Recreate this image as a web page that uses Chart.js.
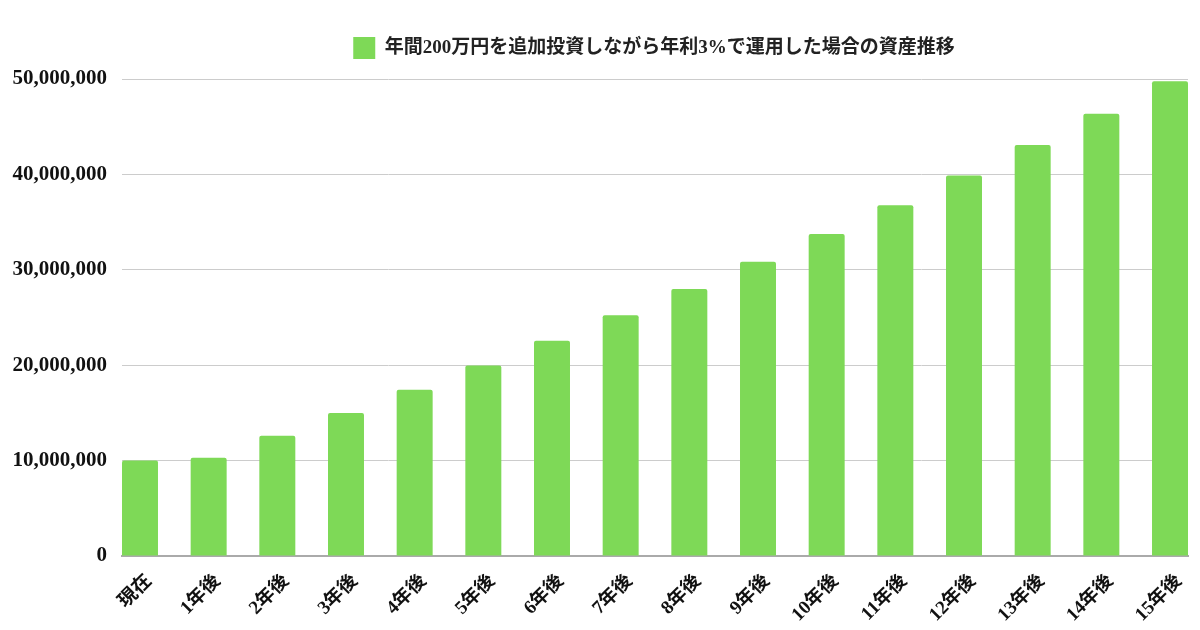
<!DOCTYPE html>
<html>
<head>
<meta charset="utf-8">
<script src="https://cdn.jsdelivr.net/npm/chart.js@4/dist/chart.umd.min.js"></script>
<style>
  html, body { margin: 0; padding: 0; background: #fff; }
  #wrap { width: 1200px; height: 630px; }
</style>
</head>
<body>
<div id="wrap"><canvas id="myChart" width="1200" height="630"></canvas></div>
<script>
const seriesName = "年間200万円を追加投資しながら年利3%で運用した場合の資産推移";
const xLabels = ["現在", "1年後", "2年後", "3年後", "4年後", "5年後", "6年後", "7年後",
    "8年後", "9年後", "10年後", "11年後", "12年後", "13年後", "14年後", "15年後"];
const assetValues = [10000000, 10300000, 12609000, 14987000, 17437000, 19960000, 22559000, 25236000,
    27993000, 30833000, 33758000, 36771000, 39874000, 43070000, 46362000, 49753000];
const yTicks = [0, 10000000, 20000000, 30000000, 40000000, 50000000];

const barColor = "#7ed957";
const fontFamily = '"Liberation Serif", "Noto Sans CJK JP", serif';
// fraction of one category step that a bar fills
const barFrac = 0.524;

const points = assetValues.map(function (v, i) {
    return { x: i, y: v };
});

// extra space under the legend, and centre it over the plot rather than the canvas
const legendTweak = {
    id: "legendTweak",
    beforeInit: function (chart) {
        const origFit = chart.legend.fit;
        chart.legend.fit = function () {
            origFit.bind(chart.legend)();
            this.height += 10;
        };
    },
    afterLayout: function (chart) {
        const shift = (chart.chartArea.left + chart.chartArea.right) / 2 - chart.width / 2;
        chart.legend.left += shift;
        chart.legend.right += shift;
    }
};

const myChart = new Chart("myChart", {
    type: "bar",
    data: {
        datasets: [{
            label: seriesName,
            data: points,
            backgroundColor: barColor,
            borderRadius: 2,
            borderSkipped: "bottom",
            categoryPercentage: 1,
            barPercentage: barFrac
        }]
    },
    plugins: [legendTweak],
    options: {
        responsive: false,
        animation: false,
        layout: { padding: { left: 10, right: 12, top: 23, bottom: 0 } },
        plugins: {
            legend: {
                labels: {
                    boxWidth: 22,
                    boxHeight: 22,
                    padding: 14,
                    color: "#222",
                    font: { family: fontFamily, size: 19, weight: "bold" }
                }
            },
            tooltip: { enabled: false }
        },
        scales: {
            x: {
                type: "linear",
                offset: false,
                min: -barFrac / 2,
                max: xLabels.length - 1 + barFrac / 2,
                grid: { display: false },
                border: { color: "#aaaaaa", width: 2 },
                afterFit: function (scale) {
                    scale.height = 74;
                },
                afterBuildTicks: function (scale) {
                    scale.ticks = xLabels.map(function (l, i) { return { value: i }; });
                },
                ticks: {
                    stepSize: 1,
                    includeBounds: false,
                    autoSkip: false,
                    minRotation: 45,
                    maxRotation: 45,
                    padding: 6,
                    labelOffset: 9,
                    color: "#111",
                    font: { family: fontFamily, size: 19, weight: "bold" },
                    callback: function (value) {
                        return xLabels[value];
                    }
                }
            },
            y: {
                min: 0,
                max: yTicks[yTicks.length - 1],
                grid: { color: "#cccccc", drawTicks: false },
                border: { display: false },
                afterFit: function (scale) {
                    scale.width = 112;
                },
                afterBuildTicks: function (scale) {
                    scale.ticks = yTicks.map(function (v) { return { value: v }; });
                },
                ticks: {
                    padding: 15,
                    color: "#111",
                    font: { family: fontFamily, size: 21, weight: "bold" },
                    callback: function (value) {
                        return value.toLocaleString("en-US");
                    }
                }
            }
        }
    }
});
</script>
</body>
</html>
